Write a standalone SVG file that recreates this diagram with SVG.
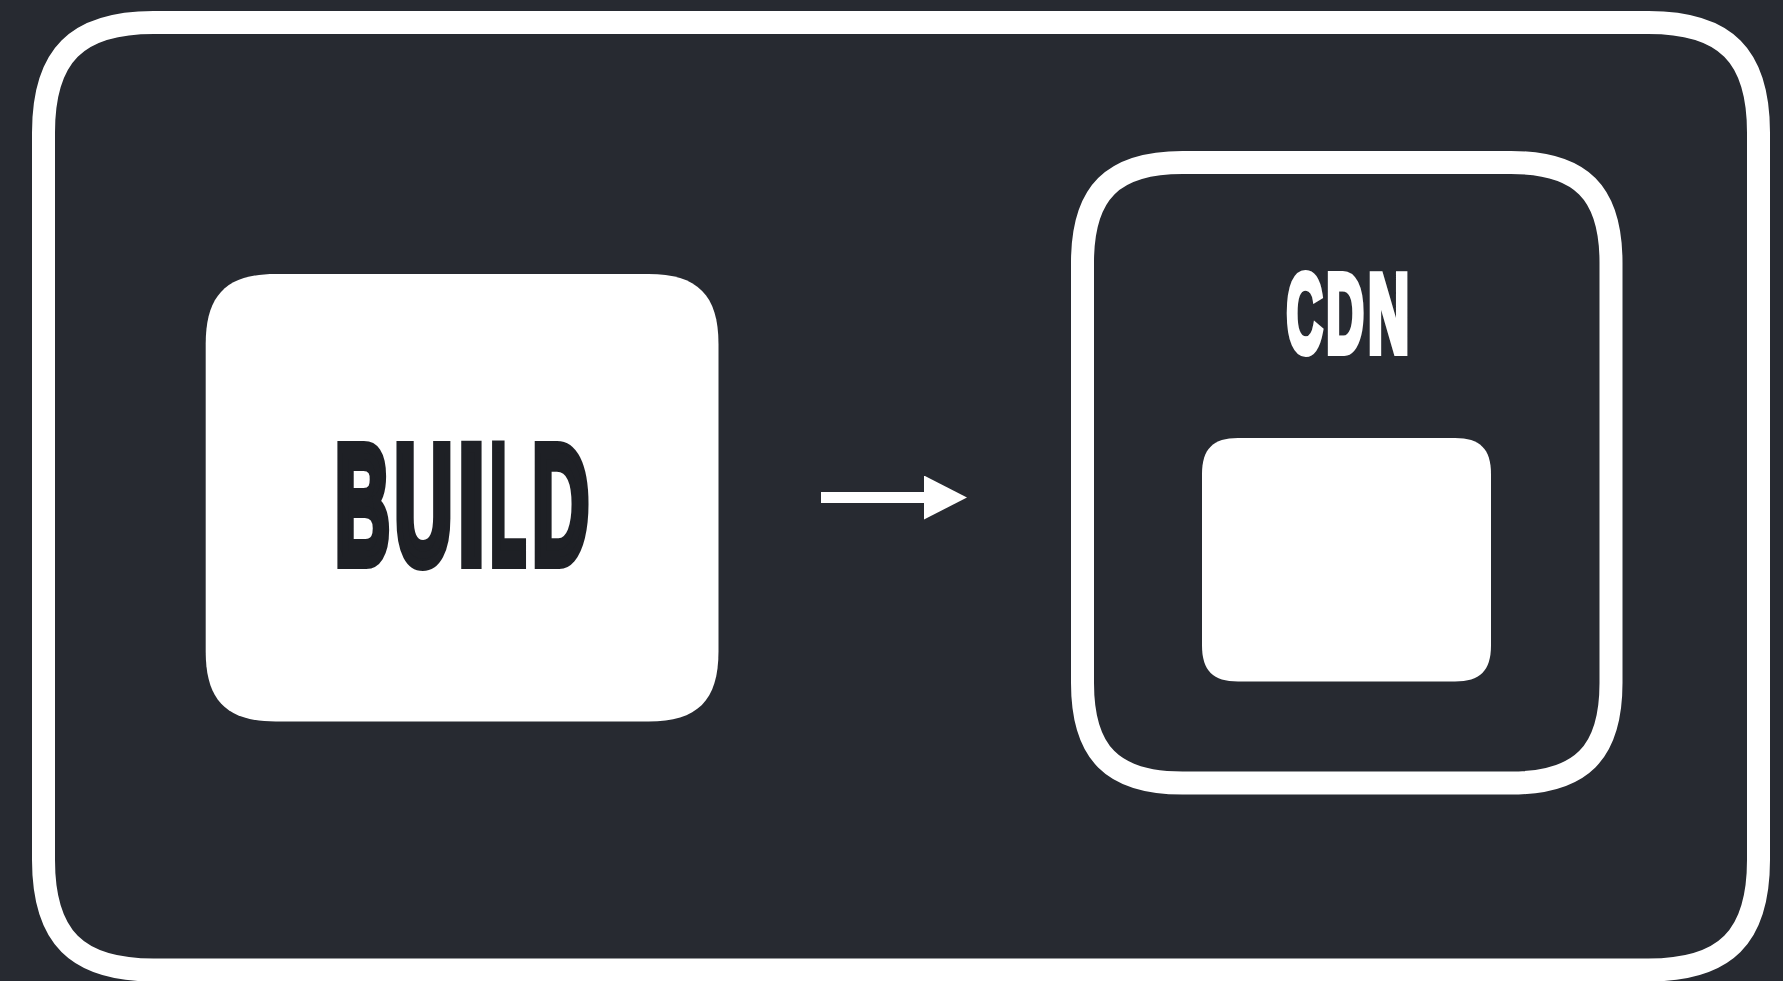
<svg xmlns="http://www.w3.org/2000/svg" width="1783" height="981" viewBox="0 0 1783 981">
  <style>
    .frame { fill: none; stroke: #ffffff; stroke-width: 23; }
    .box { fill: #ffffff; }
    .lbl-dark { font-family: "Liberation Sans", Arial, sans-serif; font-weight: 700; font-size: 169px; fill: #1e2025; stroke: #1e2025; stroke-width: 12; stroke-linejoin: miter; text-anchor: middle; }
    .lbl-light { font-family: "Liberation Sans", Arial, sans-serif; font-weight: 700; font-size: 111.7px; fill: #ffffff; stroke: #ffffff; stroke-width: 8; stroke-linejoin: miter; text-anchor: middle; }
    .conn { fill: none; stroke: #ffffff; stroke-width: 11; }
  </style>
  <defs>
    <marker id="arrowhead" markerUnits="userSpaceOnUse" markerWidth="44" markerHeight="46" refX="0" refY="22" orient="auto" viewBox="0 0 44 46">
      <path d="M0,0 L43,22 L0,44 Z" fill="#ffffff"/>
    </marker>
  </defs>
  <rect x="0" y="0" width="1783" height="981" fill="#272a31"/>

  <g id="outer-frame">
    <path class="frame" d="M153.5,22.5 H1648.5 C1725.5,22.5 1758.5,55.5 1758.5,132.5 V860 C1758.5,937 1725.5,970 1648.5,970 H153.5 C76.5,970 43.5,937 43.5,860 V132.5 C43.5,55.5 76.5,22.5 153.5,22.5 Z"/>
  </g>

  <g id="build">
    <path class="box" d="M275.7,274 H648.5 C697.5,274 718.5,295 718.5,344 V651.5 C718.5,700.5 697.5,721.5 648.5,721.5 H275.7 C226.7,721.5 205.7,700.5 205.7,651.5 V344 C205.7,295 226.7,274 275.7,274 Z"/>
    <text class="lbl-dark" transform="translate(362.5,563) scale(0.45,1)">B</text>
    <text class="lbl-dark" transform="translate(423.5,563) scale(0.475,1)">U</text>
    <text class="lbl-dark" transform="translate(471.5,563) scale(0.56,1)">I</text>
    <text class="lbl-dark" transform="translate(508,563) scale(0.344,1)">L</text>
    <text class="lbl-dark" transform="translate(560.5,563) scale(0.465,1)">D</text>
  </g>

  <g id="cdn">
    <path class="frame" d="M1182.5,162.5 H1511 C1581,162.5 1611,192.5 1611,262.5 V683 C1611,753 1581,783 1511,783 H1182.5 C1112.5,783 1082.5,753 1082.5,683 V262.5 C1082.5,192.5 1112.5,162.5 1182.5,162.5 Z"/>
    <text class="lbl-light" transform="translate(1304.5,352) scale(0.448,1)">C</text>
    <text class="lbl-light" transform="translate(1345,352) scale(0.467,1)">D</text>
    <text class="lbl-light" transform="translate(1388.5,352) scale(0.51,1)">N</text>
  </g>

  <g id="cdn-content">
    <path class="box" d="M1238,438 H1455 C1480,438 1491,449 1491,474 V645.5 C1491,670.5 1480,681.5 1455,681.5 H1238 C1213,681.5 1202,670.5 1202,645.5 V474 C1202,449 1213,438 1238,438 Z"/>
  </g>

  <g id="connectors">
    <path class="conn" d="M821,497.5 H924" marker-end="url(#arrowhead)"/>
  </g>
</svg>
